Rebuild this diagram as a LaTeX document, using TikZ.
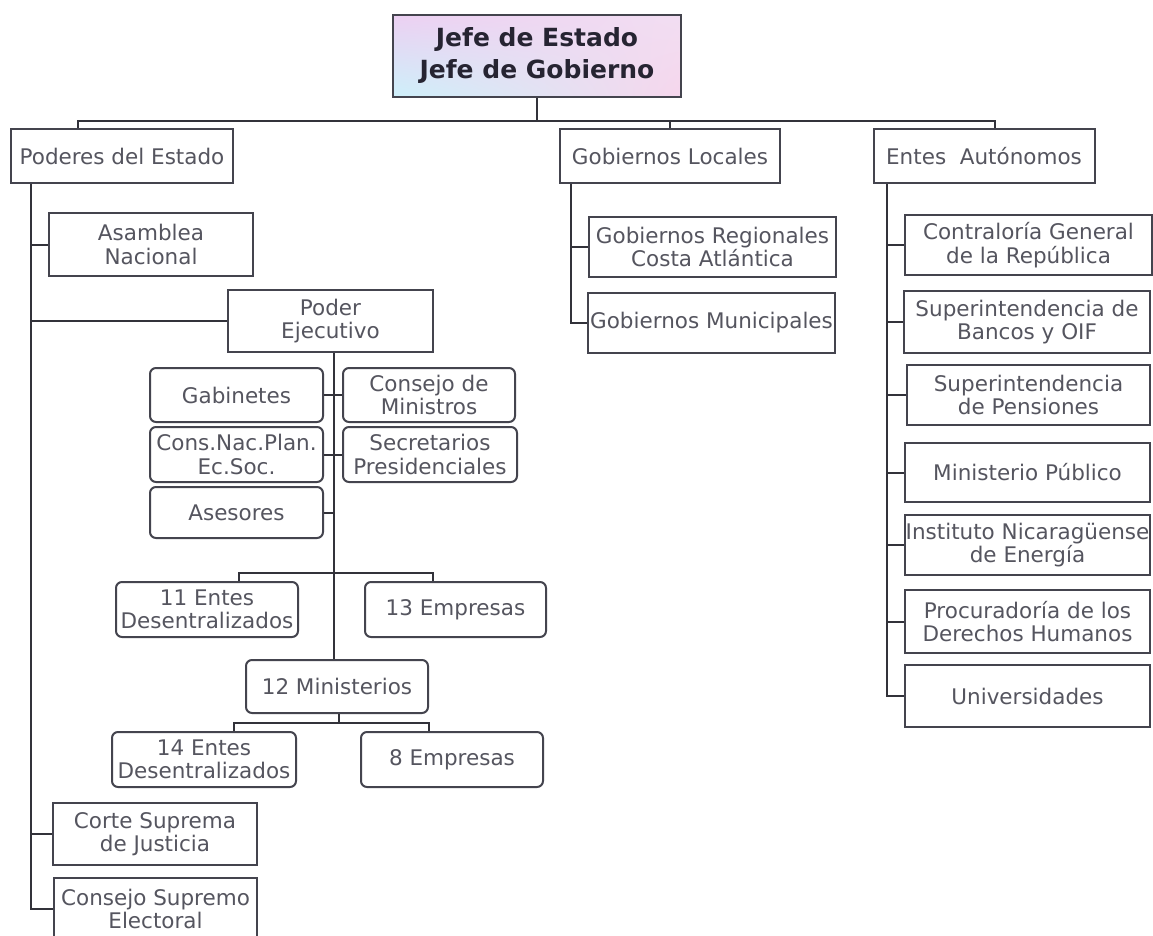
\documentclass[tikz,border=0pt]{standalone}
\usepackage{fontspec}
\setmainfont{DejaVu Sans}
\usetikzlibrary{shadings}
\definecolor{lnc}{RGB}{50,50,58}
\definecolor{bdc}{RGB}{68,68,78}
\definecolor{txc}{RGB}{85,85,95}
\definecolor{ttc}{RGB}{38,36,50}
\definecolor{shA}{RGB}{236,208,242}
\definecolor{shB}{RGB}{205,240,250}
\definecolor{shC}{RGB}{242,222,242}
\definecolor{shD}{RGB}{246,214,236}
\begin{document}
\begin{tikzpicture}[x=1pt,y=-1pt,
  base/.style={draw=bdc, line width=2pt, text=txc, font=\fontsize{21.5}{23.5}\selectfont, align=center, inner sep=1pt, fill=white},
  sq/.style={base, rectangle},
  rnd/.style={base, rounded corners=6pt},
  wh/.style n args={2}{minimum width=#1pt, minimum height=#2pt},
  link/.style={draw=lnc, line width=2pt},
  thick link/.style={draw=lnc, line width=2.8pt},
  titlebox/.style={draw=bdc, line width=2pt, text=ttc, font=\fontsize{25}{32}\selectfont\bfseries, align=center, inner sep=1pt,
    upper left=shA, lower left=shB, upper right=shC, lower right=shD}
]
\useasboundingbox (0,0) rectangle (1153,935);
\fill[white] (0,0) rectangle (1153,935);

% top
\node[titlebox, wh={288}{82}] (top) at (537,56) {Jefe de Estado\\Jefe de Gobierno};

% level 1
\node[sq, wh={222}{54}] (poderes) at (122,156) {Poderes del Estado};
\node[sq, wh={220}{54}] (gl) at (670,156) {Gobiernos Locales};
\node[sq, wh={221}{54}] (ea) at (984,156) {Entes\ \ Autónomos};

% Poderes branch
\node[sq, wh={204}{63}] (asamblea) at (151,244.5) {Asamblea\\Nacional};
\node[sq, wh={205}{62}] (pe) at (330.5,321) {Poder\\Ejecutivo};
\node[rnd, wh={173}{54}] (gab) at (236.5,395) {Gabinetes};
\node[rnd, wh={172}{54}] (cm) at (429,395) {Consejo de\\Ministros};
\node[rnd, wh={173}{55}] (cnp) at (236.5,454.5) {Cons.Nac.Plan.\\Ec.Soc.};
\node[rnd, wh={174}{55}] (sec) at (430,454.5) {Secretarios\\Presidenciales};
\node[rnd, wh={173}{51}] (ases) at (236.5,512.5) {Asesores};
\node[rnd, wh={182}{55}] (e11) at (207,609.5) {11 Entes\\Desentralizados};
\node[rnd, wh={181}{55}] (e13) at (455.5,609.5) {13 Empresas};
\node[rnd, wh={182}{53}] (m12) at (337,686.5) {12 Ministerios};
\node[rnd, wh={184}{55}] (e14) at (204,759.5) {14 Entes\\Desentralizados};
\node[rnd, wh={182}{55}] (e8) at (452,759.5) {8 Empresas};
\node[sq, wh={204}{62}] (csj) at (155,834) {Corte Suprema\\de Justicia};
\node[sq, wh={203}{62}] (cse) at (155.5,909) {Consejo Supremo\\Electoral};

% Gobiernos Locales branch
\node[sq, wh={247}{60}] (gr) at (712.5,247) {Gobiernos Regionales\\Costa Atlántica};
\node[sq, wh={247}{60}] (gm) at (711.5,323) {Gobiernos Municipales};

% Entes Autonomos branch
\node[sq, wh={247}{60}] (cont) at (1028.5,245) {Contraloría General\\de la República};
\node[sq, wh={246}{62}] (sb) at (1027,322) {Superintendencia de\\Bancos y OIF};
\node[sq, wh={243}{60}] (sp) at (1028.5,395) {Superintendencia\\de Pensiones};
\node[sq, wh={245}{59}] (mp) at (1027.5,472.5) {Ministerio Público};
\node[sq, wh={245}{60}] (inst) at (1027.5,545) {Instituto Nicaragüense\\de Energía};
\node[sq, wh={245}{63}] (proc) at (1027.5,621.5) {Procuradoría de los\\Derechos Humanos};
\node[sq, wh={245}{62}] (univ) at (1027.5,696) {Universidades};

% top bus
\coordinate (busL) at (78,121);
\coordinate (busR) at (995,121);
\draw[link] (top.south) -- (top.south |- busL);
\draw[link] (poderes.north -| busL) -- (busL) -- (busR) -- (ea.north -| busR);
\draw[link] (gl.north) -- (gl.north |- busL);

% Poderes spine
\coordinate (ps) at (31,0);
\draw[link] (poderes.south -| ps) |- (cse.west);
\draw[link] (poderes.south -| ps) |- (asamblea.west);
\draw[link] (poderes.south -| ps) |- (pe.west);
\draw[link] (poderes.south -| ps) |- (csj.west);

% Executive
\coordinate (ex) at (334,0);
\draw[thick link] (pe.south -| ex) -- (m12.north -| ex);
\draw[link] (gab.east) -- (cm.west);
\draw[link] (cnp.east) -- (sec.west);
\draw[link] (ases.east) -- (ases.east -| ex);
\coordinate (d11) at (239,573);
\coordinate (d13) at (433,573);
\draw[thick link] (e11.north -| d11) -- (d11) -- (d13) -- (e13.north -| d13);
\coordinate (mb) at (339,723);
\coordinate (d14) at (234,723);
\coordinate (d8) at (429,723);
\draw[thick link] (m12.south -| mb) -- (mb);
\draw[thick link] (e14.north -| d14) -- (d14) -- (d8) -- (e8.north -| d8);

% Gobiernos Locales spine
\coordinate (gs) at (571,0);
\draw[link] (gl.south -| gs) |- (gm.west);
\draw[link] (gl.south -| gs) |- (gr.west);

% Entes Autonomos spine
\coordinate (es) at (887,0);
\draw[link] (ea.south -| es) |- (univ.west);
\foreach \n in {cont,sb,sp,mp,inst,proc}
  \draw[link] (ea.south -| es) |- (\n.west);
\end{tikzpicture}
\end{document}
